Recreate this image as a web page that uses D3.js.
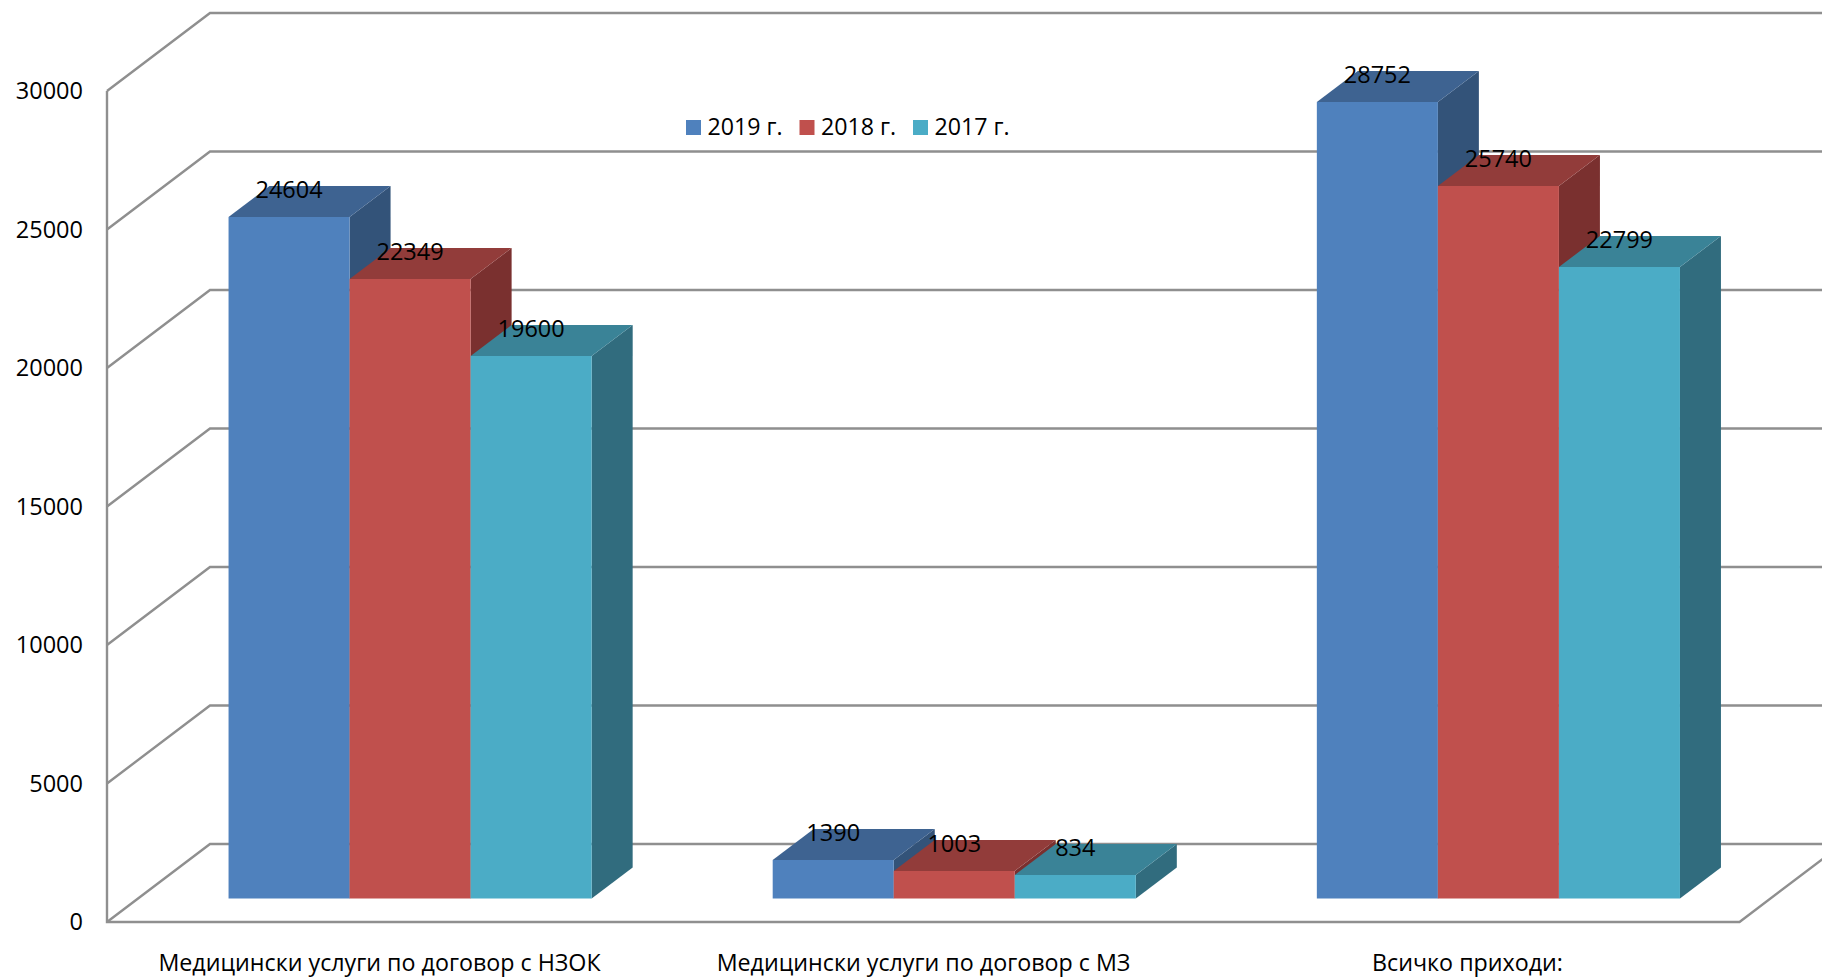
<!DOCTYPE html>
<html>
<head>
<meta charset="utf-8">
<script src="https://cdn.jsdelivr.net/npm/d3@7"></script>
<style>
html,body{margin:0;padding:0;background:#fff;overflow:hidden}
svg{display:block}
text{font-family:"Open Sans",sans-serif;font-size:23.5px;fill:#000}
</style>
</head>
<body>
<svg id="chart" width="1822" height="980"></svg>
<script>
// Revenue by source, three years per category
const categories = ["Медицински услуги по договор с НЗОК", "Медицински услуги по договор с МЗ", "Всичко приходи:"];
const seriesNames = ["2019 г.", "2018 г.", "2017 г."];
const values2019 = [24604, 1390, 28752];
const values2018 = [22349, 1003, 25740];
const values2017 = [19600, 834, 22799];
const yTicks = [0, 5000, 10000, 15000, 20000, 25000, 30000];

const frontColors = ["#4F81BD", "#C0504D", "#4BACC6"];
const topColors = ["#3E6391", "#923C3A", "#3A8397"];
const sideColors = ["#335379", "#7A302F", "#316C7E"];
const series = [values2019, values2018, values2017];

const svg = d3.select("#chart");

// Oblique projection: floor depth of the box and of the columns standing in it
const wallDx = 103, wallDy = 78;
const barDx = 41, barDy = 31;
const barOffsetX = (wallDx - barDx) / 2, barOffsetY = (wallDy - barDy) / 2;

const y = d3.scaleLinear().domain([0, 30000]).range([922, 91]);
const x0 = d3.scaleBand().domain(categories).range([107, 1739.5]).paddingInner(0.3327).paddingOuter(0.1664);
const x1 = d3.scaleBand().domain(d3.range(series.length)).range([0, x0.bandwidth()]);

// Back wall gridlines with their diagonals on the side wall
const grid = svg.append("g").attr("fill", "none").attr("stroke", "#8F8F8F").attr("stroke-width", 2.4);
grid.selectAll("path.grid").data(yTicks).join("path").attr("class", "grid")
  .attr("d", v => d3.line()([
    [107, y(v)],
    [107 + wallDx, y(v) - wallDy],
    [1739.5 + wallDx, y(v) - wallDy]
  ]));
// Left wall edge, floor front edge and floor right edge
grid.append("path").attr("d", d3.line()([[107, y(30000)], [107, y(0)], [1739.5, y(0)], [1739.5 + wallDx, y(0) - wallDy]]));

// Columns, each one front, top and side face
const groups = svg.append("g").selectAll("g").data(categories).join("g");
const columnTop = v => Math.round(y(0) - barOffsetY - (y(0) - y(v)));
groups.each(function (cat, ci) {
  const g = d3.select(this);
  series.forEach((vals, si) => {
    const left = x0(cat) + x1(si) + barOffsetX;
    const right = left + x1.bandwidth();
    const base = y(0) - barOffsetY;
    const top = columnTop(vals[ci]);
    g.append("path").attr("fill", sideColors[si])
      .attr("d", d3.line()([[right, top], [right + barDx, top - barDy], [right + barDx, base - barDy], [right, base]]) + "Z");
    g.append("path").attr("fill", topColors[si])
      .attr("d", d3.line()([[left, top], [left + barDx, top - barDy], [right + barDx, top - barDy], [right, top]]) + "Z");
    g.append("rect").attr("fill", frontColors[si])
      .attr("x", left).attr("y", top).attr("width", right - left).attr("height", base - top);
  });
});

// Value labels sit over the top face of each column
groups.each(function (cat, ci) {
  const g = d3.select(this);
  series.forEach((vals, si) => {
    const left = x0(cat) + x1(si) + barOffsetX;
    g.append("text").attr("text-anchor", "middle").attr("dy", "0.36em")
      .attr("x", left + x1.bandwidth() / 2).attr("y", columnTop(vals[ci]) - 27).text(vals[ci]);
  });
});

// Axes
const yAxis = svg.append("g").attr("transform", "translate(83,0)")
  .call(d3.axisLeft(y).tickValues(yTicks).tickSize(0).tickPadding(0).tickFormat(d3.format("d")));
yAxis.select(".domain").remove();
yAxis.selectAll("text").attr("style", "font-family:'Open Sans',sans-serif;font-size:23.5px;fill:#000").attr("dy", "0.32em");

const xAxis = svg.append("g").attr("transform", "translate(0,963)")
  .call(d3.axisBottom(d3.scalePoint().domain(categories).range([107 + 272, 107 + 544 * 2.5])).tickSize(0).tickPadding(0));
xAxis.select(".domain").remove();
xAxis.selectAll("text").attr("style", "font-family:'Open Sans',sans-serif;font-size:23.25px;fill:#000").attr("y", 0).attr("dy", "0.36em");

// Legend
const legendX = d3.scalePoint().domain(seriesNames).range([686, 913]);
const legend = svg.append("g").selectAll("g").data(seriesNames).join("g")
  .attr("transform", d => `translate(${legendX(d)},120)`);
legend.append("rect").attr("width", 15).attr("height", 15).attr("fill", (d, i) => frontColors[i]);
legend.append("text").attr("x", 21.5).attr("y", 6.5).attr("dy", "0.36em").style("font-size", "23.2px").text(d => d);
</script>
</body>
</html>
